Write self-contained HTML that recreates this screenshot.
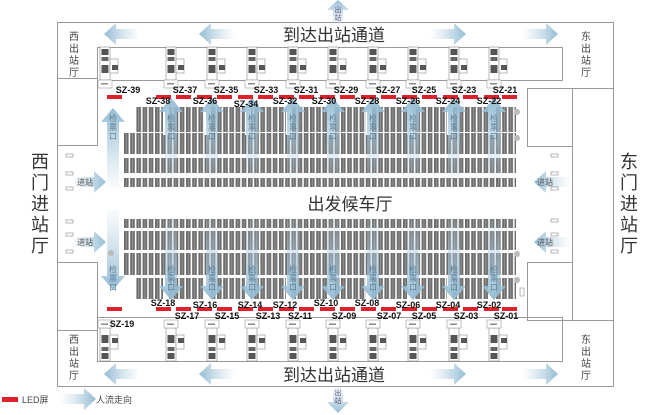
<!DOCTYPE html>
<html><head><meta charset="utf-8"><style>
html,body{margin:0;padding:0;background:#fff;}
svg{display:block;font-family:"Liberation Sans","Noto Sans CJK SC",sans-serif;}
</style></head><body>
<svg width="651" height="415" viewBox="0 0 651 415" xmlns="http://www.w3.org/2000/svg">
<defs>
<pattern id="seat" width="6.2" height="4" patternUnits="userSpaceOnUse">
<rect x="0" y="0" width="4.6" height="4" fill="#6e6e6e"/><rect x="2" y="0" width="0.6" height="4" fill="#a8a8a8"/>
</pattern>
<linearGradient id="gu" x1="0" y1="1" x2="0" y2="0"><stop offset="0" stop-color="#b9d3e3" stop-opacity="0.1"/><stop offset="1" stop-color="#94bbd3"/></linearGradient>
<linearGradient id="gd" x1="0" y1="0" x2="0" y2="1"><stop offset="0" stop-color="#b9d3e3" stop-opacity="0.1"/><stop offset="1" stop-color="#94bbd3"/></linearGradient>
<linearGradient id="gr" x1="0" y1="0" x2="1" y2="0"><stop offset="0" stop-color="#b9d3e3" stop-opacity="0"/><stop offset="1" stop-color="#94bbd3"/></linearGradient>
<linearGradient id="gl" x1="1" y1="0" x2="0" y2="0"><stop offset="0" stop-color="#b9d3e3" stop-opacity="0"/><stop offset="1" stop-color="#94bbd3"/></linearGradient>
<g id="au"><path d="M-6,0 L-6,-66 L-12,-66 L0,-80 L12,-66 L6,-66 L6,0 Z" fill="url(#gu)"/></g>
<g id="ad"><path d="M-6,0 L-6,66 L-12,66 L0,80 L12,66 L6,66 L6,0 Z" fill="url(#gd)"/></g>
<g id="ar"><path d="M0,-5 L24,-5 L24,-11 L36,0 L24,11 L24,5 L0,5 Z" fill="url(#gr)"/></g>
<g id="al"><path d="M0,-5 L-24,-5 L-24,-11 L-36,0 L-24,11 L-24,5 L0,5 Z" fill="url(#gl)"/></g>
<g id="gate"><rect x="0" y="0" width="10" height="33" fill="#fff" stroke="#888" stroke-width="0.6"/><rect x="1.5" y="2" width="7" height="6" fill="#555"/><rect x="1.5" y="10" width="7" height="4" fill="#666"/><rect x="1.5" y="18" width="7" height="8" fill="#555"/><rect x="10" y="12" width="8" height="14" fill="#fff" stroke="#888" stroke-width="0.6"/><rect x="12" y="18" width="6" height="5" fill="#555"/><rect x="-2" y="33" width="14" height="8" fill="#fff" stroke="#999" stroke-width="0.6"/><rect x="1" y="36" width="7" height="1.5" fill="#888"/></g>
</defs>
<g fill="none" stroke="#999" stroke-width="1">
<rect x="57.5" y="22.5" width="556" height="364"/>
<rect x="97.5" y="47.5" width="465" height="33"/>
<rect x="97.5" y="317.5" width="465" height="44"/>
<rect x="57.5" y="78.5" width="40" height="67"/>
<rect x="57.5" y="262.5" width="40" height="68"/>
<rect x="527.5" y="88.5" width="45" height="58"/>
<rect x="527.5" y="262.5" width="45" height="58"/>
<line x1="572.5" y1="88" x2="572.5" y2="321"/>
<line x1="562" y1="88.5" x2="614" y2="88.5"/>
<line x1="562" y1="320.5" x2="614" y2="320.5"/>
</g>
<g>
<use href="#gate" x="100" y="47"/><use href="#gate" x="166" y="47"/><use href="#gate" x="207" y="47"/><use href="#gate" x="247" y="47"/><use href="#gate" x="288" y="47"/><use href="#gate" x="328" y="47"/><use href="#gate" x="368" y="47"/><use href="#gate" x="408" y="47"/><use href="#gate" x="449" y="47"/><use href="#gate" x="489" y="47"/>
</g>
<g transform="translate(0,678) scale(1,-1)">
<use href="#gate" x="100" y="317"/><use href="#gate" x="166" y="317"/><use href="#gate" x="207" y="317"/><use href="#gate" x="247" y="317"/><use href="#gate" x="288" y="317"/><use href="#gate" x="328" y="317"/><use href="#gate" x="368" y="317"/><use href="#gate" x="408" y="317"/><use href="#gate" x="449" y="317"/><use href="#gate" x="489" y="317"/>
</g>
<!-- seats -->
<g fill="url(#seat)">
<rect x="135" y="107" width="381" height="25"/>
<rect x="123" y="133" width="393" height="21"/>
<rect x="123" y="158" width="393" height="15"/>
<rect x="123" y="178" width="393" height="9"/>
<rect x="123" y="219" width="393" height="9"/>
<rect x="123" y="231" width="393" height="19"/>
<rect x="123" y="253" width="393" height="22"/>
<rect x="135" y="278" width="381" height="21"/>
</g>
<g fill="#fff">
<rect x="163" y="105" width="6" height="30"/><rect x="204" y="105" width="6" height="30"/><rect x="245" y="105" width="6" height="30"/><rect x="286" y="105" width="6" height="30"/><rect x="327" y="105" width="6" height="30"/><rect x="366" y="105" width="6" height="30"/><rect x="407" y="105" width="6" height="30"/><rect x="447" y="105" width="6" height="30"/><rect x="488" y="105" width="6" height="30"/>
<rect x="163" y="275" width="6" height="26"/><rect x="204" y="275" width="6" height="26"/><rect x="245" y="275" width="6" height="26"/><rect x="286" y="275" width="6" height="26"/><rect x="327" y="275" width="6" height="26"/><rect x="366" y="275" width="6" height="26"/><rect x="407" y="275" width="6" height="26"/><rect x="447" y="275" width="6" height="26"/><rect x="488" y="275" width="6" height="26"/>
</g>
<g>
<use href="#au" x="113" y="188"/><use href="#au" x="171" y="178"/><use href="#au" x="212" y="178"/><use href="#au" x="252" y="178"/><use href="#au" x="293" y="178"/><use href="#au" x="333" y="178"/><use href="#au" x="373" y="178"/><use href="#au" x="413" y="178"/><use href="#au" x="454" y="178"/><use href="#au" x="494" y="178"/>
<use href="#ad" x="113" y="210"/><use href="#ad" x="171" y="220"/><use href="#ad" x="212" y="220"/><use href="#ad" x="252" y="220"/><use href="#ad" x="293" y="220"/><use href="#ad" x="333" y="220"/><use href="#ad" x="373" y="220"/><use href="#ad" x="413" y="220"/><use href="#ad" x="454" y="220"/><use href="#ad" x="494" y="220"/>
</g>
<g font-size="8" fill="#5a7f98" text-anchor="middle">
<text x="113" y="121">检</text><text x="113" y="130">票</text><text x="113" y="139">口</text>
<text x="171" y="121">检</text><text x="171" y="130">票</text><text x="171" y="139">口</text>
<text x="212" y="121">检</text><text x="212" y="130">票</text><text x="212" y="139">口</text>
<text x="252" y="121">检</text><text x="252" y="130">票</text><text x="252" y="139">口</text>
<text x="293" y="121">检</text><text x="293" y="130">票</text><text x="293" y="139">口</text>
<text x="333" y="121">检</text><text x="333" y="130">票</text><text x="333" y="139">口</text>
<text x="373" y="121">检</text><text x="373" y="130">票</text><text x="373" y="139">口</text>
<text x="413" y="121">检</text><text x="413" y="130">票</text><text x="413" y="139">口</text>
<text x="454" y="121">检</text><text x="454" y="130">票</text><text x="454" y="139">口</text>
<text x="494" y="121">检</text><text x="494" y="130">票</text><text x="494" y="139">口</text>
<text x="113" y="272">检</text><text x="113" y="281">票</text><text x="113" y="290">口</text>
<text x="171" y="272">检</text><text x="171" y="281">票</text><text x="171" y="290">口</text>
<text x="212" y="272">检</text><text x="212" y="281">票</text><text x="212" y="290">口</text>
<text x="252" y="272">检</text><text x="252" y="281">票</text><text x="252" y="290">口</text>
<text x="293" y="272">检</text><text x="293" y="281">票</text><text x="293" y="290">口</text>
<text x="333" y="272">检</text><text x="333" y="281">票</text><text x="333" y="290">口</text>
<text x="373" y="272">检</text><text x="373" y="281">票</text><text x="373" y="290">口</text>
<text x="413" y="272">检</text><text x="413" y="281">票</text><text x="413" y="290">口</text>
<text x="454" y="272">检</text><text x="454" y="281">票</text><text x="454" y="290">口</text>
<text x="494" y="272">检</text><text x="494" y="281">票</text><text x="494" y="290">口</text>
</g>
<g fill="#e0202a">
<rect x="107" y="95" width="15" height="4"/><rect x="107" y="307" width="15" height="4"/>
<rect x="156" y="95" width="15" height="4"/><rect x="176" y="95" width="15" height="4"/><rect x="197" y="95" width="15" height="4"/><rect x="217" y="95" width="15" height="4"/><rect x="238" y="95" width="15" height="4"/><rect x="258" y="95" width="15" height="4"/><rect x="279" y="95" width="15" height="4"/><rect x="299" y="95" width="15" height="4"/><rect x="320" y="95" width="15" height="4"/><rect x="340" y="95" width="15" height="4"/><rect x="361" y="95" width="15" height="4"/><rect x="381" y="95" width="15" height="4"/><rect x="402" y="95" width="15" height="4"/><rect x="422" y="95" width="15" height="4"/><rect x="443" y="95" width="15" height="4"/><rect x="463" y="95" width="15" height="4"/><rect x="484" y="95" width="15" height="4"/><rect x="502" y="95" width="15" height="4"/>
<rect x="156" y="307" width="15" height="4"/><rect x="176" y="307" width="15" height="4"/><rect x="197" y="307" width="15" height="4"/><rect x="217" y="307" width="15" height="4"/><rect x="238" y="307" width="15" height="4"/><rect x="258" y="307" width="15" height="4"/><rect x="279" y="307" width="15" height="4"/><rect x="299" y="307" width="15" height="4"/><rect x="320" y="307" width="15" height="4"/><rect x="340" y="307" width="15" height="4"/><rect x="361" y="307" width="15" height="4"/><rect x="381" y="307" width="15" height="4"/><rect x="402" y="307" width="15" height="4"/><rect x="422" y="307" width="15" height="4"/><rect x="443" y="307" width="15" height="4"/><rect x="463" y="307" width="15" height="4"/><rect x="484" y="307" width="15" height="4"/><rect x="502" y="307" width="15" height="4"/>
</g>
<g font-size="9" font-weight="bold" fill="#111" text-anchor="middle">
<text x="128" y="93">SZ-39</text><text x="185" y="93">SZ-37</text><text x="226" y="93">SZ-35</text><text x="266" y="93">SZ-33</text><text x="306" y="93">SZ-31</text><text x="346" y="93">SZ-29</text><text x="388" y="93">SZ-27</text><text x="424" y="93">SZ-25</text><text x="464" y="93">SZ-23</text><text x="505" y="93">SZ-21</text>
<text x="158" y="104">SZ-38</text><text x="205" y="104">SZ-36</text><text x="246" y="107">SZ-34</text><text x="285" y="104">SZ-32</text><text x="324" y="104">SZ-30</text><text x="367" y="104">SZ-28</text><text x="408" y="104">SZ-26</text><text x="448" y="104">SZ-24</text><text x="489" y="104">SZ-22</text>
<text x="163" y="306">SZ-18</text><text x="205" y="308">SZ-16</text><text x="250" y="308">SZ-14</text><text x="285" y="308">SZ-12</text><text x="326" y="306">SZ-10</text><text x="367" y="306">SZ-08</text><text x="408" y="308">SZ-06</text><text x="448" y="308">SZ-04</text><text x="489" y="308">SZ-02</text>
<text x="122" y="327">SZ-19</text><text x="187" y="319">SZ-17</text><text x="227" y="319">SZ-15</text><text x="268" y="319">SZ-13</text><text x="300" y="319">SZ-11</text><text x="344" y="319">SZ-09</text><text x="389" y="319">SZ-07</text><text x="424" y="319">SZ-05</text><text x="466" y="319">SZ-03</text><text x="506" y="319">SZ-01</text>
</g>
<use href="#al" x="140" y="34"/><use href="#al" x="235" y="34"/><use href="#ar" x="430" y="34"/><use href="#ar" x="522" y="34"/>
<use href="#al" x="140" y="374"/><use href="#al" x="235" y="374"/><use href="#ar" x="430" y="374"/><use href="#ar" x="522" y="374"/>
<use href="#ar" x="70" y="182"/><use href="#ar" x="70" y="242"/><use href="#al" x="570" y="182"/><use href="#al" x="570" y="242"/>
<path d="M333,24 L333,10 L327,10 L338,0 L349,10 L343,10 L343,24 Z" fill="url(#gu)"/>
<path d="M333,386 L333,402 L327,402 L338,413 L349,402 L343,402 L343,386 Z" fill="url(#gd)"/>
<g font-size="7" fill="#557" text-anchor="middle"><text x="338" y="12">出</text><text x="338" y="20">站</text><text x="338" y="395">出</text><text x="338" y="403">站</text></g>
<g font-size="8" fill="#555"><text x="77" y="185">进站</text><text x="77" y="245">进站</text><text x="537" y="185">进站</text><text x="537" y="245">进站</text></g>
<g fill="none" stroke="#999" stroke-width="0.7">
<rect x="66" y="154" width="7" height="3"/><rect x="66" y="172" width="7" height="3"/><rect x="66" y="187" width="7" height="3"/>
<rect x="66" y="220" width="7" height="3"/><rect x="66" y="233" width="7" height="3"/><rect x="66" y="250" width="7" height="3"/>
<rect x="551" y="154" width="7" height="3"/><rect x="551" y="172" width="7" height="3"/><rect x="551" y="187" width="7" height="3"/>
<rect x="551" y="219" width="7" height="3"/><rect x="551" y="233" width="7" height="3"/><rect x="551" y="250" width="7" height="3"/>
<rect x="520" y="288" width="4" height="8"/>
</g>
<g fill="#bbb"><circle cx="517" cy="112" r="3"/><circle cx="517" cy="138" r="3"/><circle cx="517" cy="254" r="3"/><circle cx="517" cy="280" r="3"/><circle cx="111" cy="253" r="3"/></g>
<g font-size="17" fill="#333" text-anchor="middle">
<text x="334" y="41">到达出站通道</text><text x="334" y="381">到达出站通道</text>
<text x="350" y="210">出发候车厅</text>
</g>
<g font-size="18" fill="#333" text-anchor="middle">
<text x="40" y="168">西</text><text x="40" y="189">门</text><text x="40" y="210">进</text><text x="40" y="231">站</text><text x="40" y="252">厅</text>
<text x="629" y="168">东</text><text x="629" y="189">门</text><text x="629" y="210">进</text><text x="629" y="231">站</text><text x="629" y="252">厅</text>
</g>
<g font-size="10" fill="#444" text-anchor="middle">
<text x="74" y="40">西</text><text x="74" y="52">出</text><text x="74" y="64">站</text><text x="74" y="76">厅</text>
<text x="74" y="343">西</text><text x="74" y="355">出</text><text x="74" y="367">站</text><text x="74" y="379">厅</text>
<text x="586" y="40">东</text><text x="586" y="52">出</text><text x="586" y="64">站</text><text x="586" y="76">厅</text>
<text x="586" y="343">东</text><text x="586" y="355">出</text><text x="586" y="367">站</text><text x="586" y="379">厅</text>
</g>
<rect x="2" y="397" width="16" height="5" fill="#e0202a"/>
<text x="22" y="403" font-size="9" fill="#444">LED屏</text>
<use href="#ar" x="60" y="399"/>
<text x="96" y="403" font-size="9" fill="#444">人流走向</text>
</svg>
</body></html>
